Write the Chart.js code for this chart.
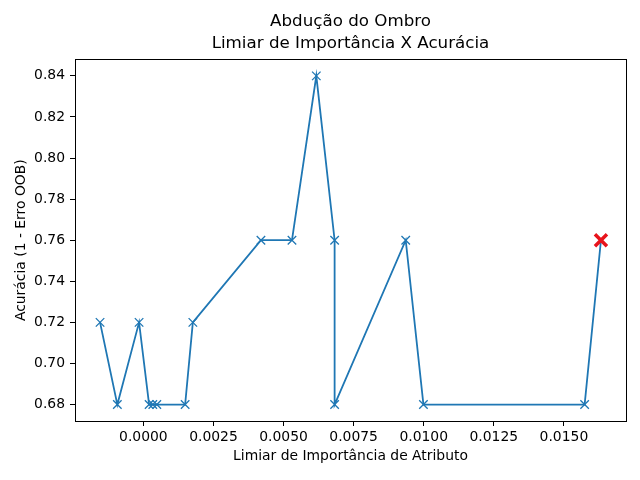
<!DOCTYPE html>
<html>
<head>
<meta charset="utf-8">
<script src="https://cdn.jsdelivr.net/npm/chart.js@4"></script>
<style>
  html, body { margin: 0; padding: 0; background: #fff; }
  #wrap { width: 640px; height: 480px; }
</style>
</head>
<body>
<div id="wrap"><canvas id="grafico" width="640" height="480"></canvas></div>
<script>
// dados
const limiar = [-0.001546, -0.000929, -0.000154, 0.000204, 0.000336, 0.000479, 0.001489, 0.001764,
  0.004193, 0.005300, 0.006168, 0.006821, 0.006821, 0.009357, 0.009989, 0.015739, 0.016321];
const acuracia = [0.72, 0.68, 0.72, 0.68, 0.68, 0.68, 0.68, 0.72,
  0.76, 0.76, 0.84, 0.76, 0.68, 0.76, 0.68, 0.68, 0.76];
const melhor = 16; // ponto marcado em vermelho
const xTicks = [0, 0.0025, 0.005, 0.0075, 0.01, 0.0125, 0.015];
const yTicks = [0.68, 0.70, 0.72, 0.74, 0.76, 0.78, 0.80, 0.82, 0.84];

const pontos = limiar.map((x, i) => ({ x, y: acuracia[i] }));
const fonte = 'DejaVu Sans';

// margens de 5% como no matplotlib
const xMin = Math.min(...limiar), xMax = Math.max(...limiar);
const yMin = Math.min(...acuracia), yMax = Math.max(...acuracia);
const mx = (xMax - xMin) * 0.05, my = (yMax - yMin) * 0.05;

// moldura completa do eixo
const moldura = {
  id: 'moldura',
  afterDraw(chart) {
    const { ctx, chartArea: a } = chart;
    ctx.save();
    ctx.strokeStyle = '#000';
    ctx.lineWidth = 1;
    ctx.strokeRect(Math.round(a.left) + 0.5, Math.round(a.top) + 0.5,
      Math.round(a.right - a.left), Math.round(a.bottom - a.top));
    ctx.restore();
  }
};

new Chart(document.getElementById('grafico'), {
  type: 'scatter',
  data: {
    datasets: [
      {
        data: [pontos[melhor]],
        pointStyle: 'crossRot',
        pointRadius: 8.5,
        pointBorderWidth: 3.5,
        borderColor: '#e8141c',
        backgroundColor: '#e8141c',
        order: 0
      },
      {
        data: pontos,
        showLine: true,
        borderColor: '#1f77b4',
        backgroundColor: '#1f77b4',
        borderWidth: 1.8,
        pointStyle: 'crossRot',
        pointRadius: 6,
        pointBorderWidth: 1.3,
        order: 1
      }
    ]
  },
  options: {
    responsive: false,
    animation: false,
    layout: { padding: { left: 0, right: 14, top: 0, bottom: 0 } },
    plugins: {
      legend: { display: false },
      tooltip: { enabled: false },
      title: {
        display: true,
        fullSize: false,
        text: ['Abdução do Ombro', 'Limiar de Importância X Acurácia'],
        color: '#000',
        font: { family: fonte, size: 16.7, weight: 'normal', lineHeight: 1.3 },
        padding: { top: 11, bottom: 5 }
      }
    },
    scales: {
      x: {
        type: 'linear',
        min: xMin - mx,
        max: xMax + mx,
        afterBuildTicks: s => { s.ticks = xTicks.map(v => ({ value: v })); },
        afterFit: s => { s.height = 59; },
        border: { display: false },
        grid: { drawOnChartArea: false, drawTicks: true, tickLength: 5, color: '#000' },
        ticks: {
          color: '#000',
          padding: 3,
          maxRotation: 0,
          font: { family: fonte, size: 13.9 },
          callback: v => v.toFixed(4)
        },
        title: {
          display: true,
          text: 'Limiar de Importância de Atributo',
          color: '#000',
          font: { family: fonte, size: 13.9 },
          padding: { top: 0, bottom: 15 }
        }
      },
      y: {
        min: yMin - my,
        max: yMax + my,
        afterBuildTicks: s => { s.ticks = yTicks.map(v => ({ value: v })); },
        afterFit: s => { s.width = 75; },
        border: { display: false },
        grid: { drawOnChartArea: false, drawTicks: true, tickLength: 5, color: '#000' },
        ticks: {
          color: '#000',
          padding: 5,
          font: { family: fonte, size: 13.9 },
          callback: v => v.toFixed(2)
        },
        title: {
          display: true,
          text: 'Acurácia (1 - Erro OOB)',
          color: '#000',
          font: { family: fonte, size: 13.9 },
          padding: { top: 13, bottom: 0 }
        }
      }
    }
  },
  plugins: [moldura]
});
</script>
</body>
</html>
